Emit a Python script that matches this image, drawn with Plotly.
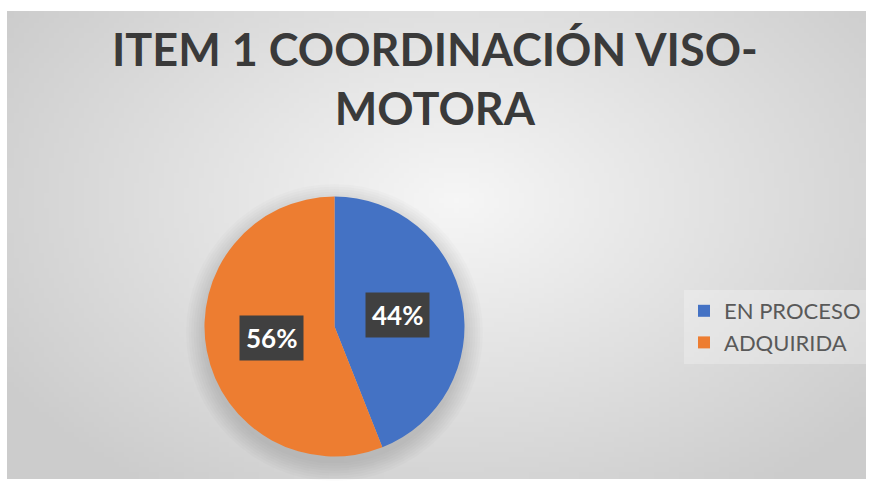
import base64
import math
import struct
import zlib

import plotly.graph_objects as go

# data
LABELS = ["EN PROCESO", "ADQUIRIDA"]
VALUES = [44, 56]
COLORS = ["#4472C4", "#ED7D31"]
TITLE = "ITEM 1 COORDINACIÓN VISO-<br>MOTORA"

W, H = 870, 481
# chart frame (white border around it)
FX0, FY0, FX1, FY1 = 7, 11, 866, 479
# pie centre / radius in pixels
CX, CY, R = 334.5, 326.5, 130


def radial_png(w, h, c_in, c_out, cx, cy):
    rows = []
    for j in range(h):
        row = bytearray([0])
        for i in range(w):
            dx = (i - cx) / (w * 0.62)
            dy = (j - cy) / (h * 0.75)
            t = min(1.0, math.sqrt(dx * dx + dy * dy))
            v = int(round(c_in + (c_out - c_in) * t))
            row += bytes([v, v, v])
        rows.append(bytes(row))
    raw = b"".join(rows)

    def chunk(tag, data):
        c = struct.pack(">I", len(data)) + tag + data
        return c + struct.pack(">I", zlib.crc32(tag + data) & 0xFFFFFFFF)

    png = b"\x89PNG\r\n\x1a\n"
    png += chunk(b"IHDR", struct.pack(">IIBBBBB", w, h, 8, 2, 0, 0, 0))
    png += chunk(b"IDAT", zlib.compress(raw, 9))
    png += chunk(b"IEND", b"")
    return "data:image/png;base64," + base64.b64encode(png).decode()


bg = radial_png(172, 94, 246, 204, 172 * 0.52, 94 * 0.40)

fig = go.Figure()
fig.add_trace(go.Pie(
    labels=LABELS,
    values=VALUES,
    marker=dict(colors=COLORS, line=dict(width=0)),
    sort=False,
    direction="clockwise",
    rotation=0,
    textinfo="none",
    hoverinfo="label+percent",
    domain=dict(
        x=[(CX - R) / W, (CX + R) / W],
        y=[1 - (CY + R) / H, 1 - (CY - R) / H],
    ),
))

# soft shadow under the pie
shapes = []
for k in range(8):
    rr = R + 1 + k * 2.5
    shapes.append(dict(
        type="circle", xref="paper", yref="paper", layer="below",
        x0=(CX - rr) / W, x1=(CX + rr) / W,
        y0=1 - (CY + 6 + rr) / H, y1=1 - (CY + 6 - rr) / H,
        fillcolor="rgba(0,0,0,0.014)", line=dict(width=0),
    ))

# data labels in dark boxes, placed at mid-angle of each slice
total = sum(VALUES)
annotations = []
acc = 0
for v in VALUES:
    mid = (acc + v / 2) / total * 2 * math.pi
    acc += v
    px = CX + 0.49 * R * math.sin(mid)
    py = CY - 0.49 * R * math.cos(mid)
    annotations.append(dict(
        x=px / W, y=1 - py / H, xref="paper", yref="paper",
        xanchor="center", yanchor="middle",
        text=f"<b>{round(v / total * 100)}%</b>",
        showarrow=False,
        font=dict(family="Lato", size=26, color="white"),
        bgcolor="#404040",
        borderpad=6,
    ))

annotations.append(dict(
    text=f"<b>{TITLE}</b>",
    x=0.5, xanchor="center", xref="paper",
    y=1 - 20 / H, yanchor="top", yref="paper",
    showarrow=False,
    font=dict(family="Lato", size=45, color="#3a3a3a"),
))

fig.update_layout(
    width=W,
    height=H,
    paper_bgcolor="white",
    plot_bgcolor="rgba(0,0,0,0)",
    margin=dict(l=0, r=0, t=0, b=0),
    legend=dict(
        x=684 / W, xanchor="left",
        y=1 - 327 / H, yanchor="middle",
        bgcolor="rgba(255,255,255,0.25)",
        font=dict(family="Lato", size=22, color="#595959"),
        itemsizing="constant",
    ),
    shapes=shapes,
    annotations=annotations,
    images=[dict(
        source=bg, xref="paper", yref="paper",
        x=FX0 / W, y=1 - FY0 / H,
        sizex=(FX1 - FX0) / W, sizey=(FY1 - FY0) / H,
        xanchor="left", yanchor="top",
        sizing="stretch", layer="below",
    )],
)

fig.write_html(
    "out.html",
    config={"displayModeBar": False},
    post_script="document.body.style.margin='0';",
)
